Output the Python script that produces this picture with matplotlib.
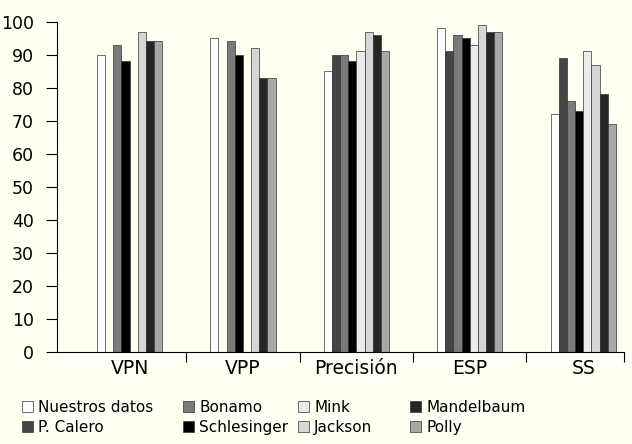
import matplotlib
matplotlib.use("Agg")
import matplotlib.pyplot as plt
import numpy as np

plt.rcParams["font.family"] = ["DejaVu Sans"]

categories = ["VPN", "VPP", "Precisión", "ESP", "SS"]
series = ["Nuestros datos", "P. Calero", "Bonamo", "Schlesinger",
          "Mink", "Jackson", "Mandelbaum", "Polly"]
colors = ["#ffffff", "#454545", "#7a7a7a", "#000000",
          "#ebebeb", "#d6d6d6", "#262626", "#a8a8a8"]

# one list per series, values per category (0 = no data)
nuestros = [90, 95, 85, 98, 72]
calero = [0, 0, 90, 91, 89]
bonamo = [93, 94, 90, 96, 76]
schlesinger = [88, 90, 88, 95, 73]
mink = [0, 0, 91, 93, 91]
jackson = [97, 92, 97, 99, 87]
mandelbaum = [94, 83, 96, 97, 78]
polly = [94, 83, 91, 97, 69]
values = [nuestros, calero, bonamo, schlesinger, mink, jackson, mandelbaum, polly]

bg = "#fffff4"
fig = plt.figure(figsize=(6.32, 4.44), dpi=100, facecolor=bg)
ax = fig.add_axes([57 / 632, 1 - 351.7 / 444, (624 - 57) / 632, 330 / 444])
ax.set_facecolor(bg)

x = np.arange(len(categories))
w = 0.072
handles = []
for i, (name, vals) in enumerate(zip(series, values)):
    pos = x + (i - 3.5) * w
    b = ax.bar(pos, vals, w, color=colors[i], edgecolor="#333333",
               linewidth=0.5, label=name)
    handles.append(b)

ax.set_ylim(0, 100)
ax.set_xlim(-0.64, 4.36)
ax.set_yticks(range(0, 101, 10))
ax.tick_params(axis="y", length=8, width=0.8, labelsize=12.5, pad=8.5)
ax.set_xticks(list(np.arange(0.5, 4, 1)) + [4.36])
ax.set_xticklabels([])
ax.set_xticks(x, minor=True)
ax.set_xticklabels(categories, minor=True)
ax.tick_params(axis="x", which="major", length=7, width=0.8, direction="out")
ax.tick_params(axis="x", which="minor", length=0, labelsize=13.5, pad=5)
for s in ["top", "right"]:
    ax.spines[s].set_visible(False)
for s in ["left", "bottom"]:
    ax.spines[s].set_linewidth(0.8)

# legend: four columns of two entries
cols = [(0, 1), (2, 3), (4, 5), (6, 7)]
xs = [22 / 632, 183 / 632, 298 / 632, 410 / 632]
for (a, b), xx in zip(cols, xs):
    fig.legend([handles[a], handles[b]], [series[a], series[b]],
               loc="upper left", bbox_to_anchor=(xx, 1 - 400 / 444), frameon=False,
               fontsize=11, handlelength=0.75, handleheight=0.75,
               handletextpad=0.3, labelspacing=0.3, borderpad=0,
               borderaxespad=0)

fig.savefig("out.png", dpi=100, facecolor=bg)
